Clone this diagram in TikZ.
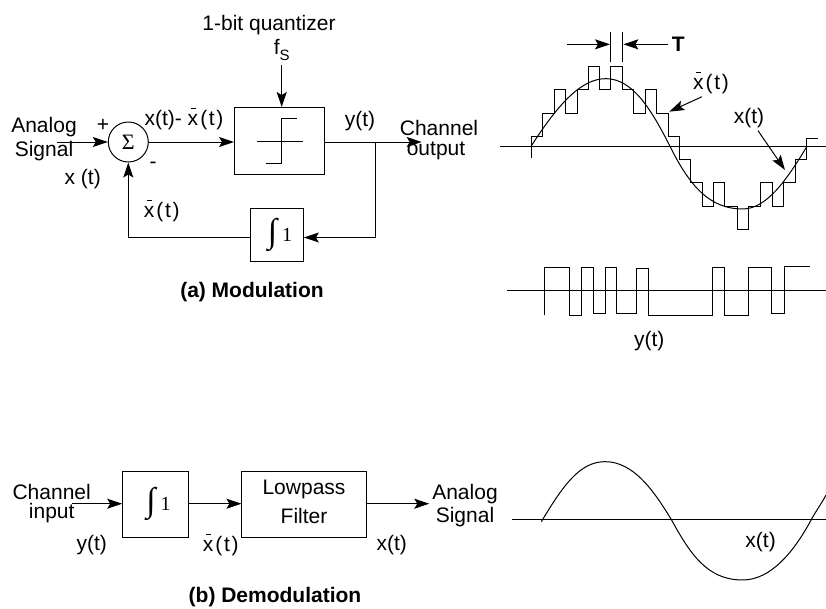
\documentclass[tikz,border=0pt]{standalone}
\usepackage{fontspec}
\setmainfont{Liberation Sans}
\newfontfamily\symfont{Liberation Serif}
\usetikzlibrary{arrows.meta}
\newcommand{\xbar}{\rlap{\kern.14em\raisebox{.78em}{\rule{.24em}{.05em}}}x}
\newcommand{\xbart}{\xbar\kern.1em(\kern.08em t\kern.08em)}
\newcommand{\intone}{{\symfont\fontsize{34}{34}\selectfont\kern6pt ∫\kern5pt\fontsize{20}{20}\selectfont\raisebox{1pt}{1}}}
\tikzset{
  sig/.style={-{Stealth[length=15pt,width=10pt,inset=3pt]}},
  blockbox/.style={draw, rectangle, inner sep=0pt},
  lab/.style={inner sep=0pt, font=\fontsize{21}{24}\selectfont},
  caption/.style={inner sep=0pt, font=\fontsize{21}{24}\selectfont\bfseries},
}
\begin{document}
\begin{tikzpicture}[x=1pt, y=-1pt, line width=1pt]
  \useasboundingbox (0,0) rectangle (826,608);

  % modulator
  \node [draw, circle, inner sep=0pt, minimum size=40pt] (sum) at (128.3,142) {\symfont\fontsize{22}{22}\selectfont Σ};
  \node [blockbox, minimum width=90pt, minimum height=66.5pt] (quant) at (279.5,140.8) {};
  \node [blockbox, minimum width=52.8pt, minimum height=53pt] (intg) at (277,235.2) {\intone};
  \coordinate (ain) at (57.3,142);
  \coordinate (junc) at (375.7,142);
  \coordinate (aout) at (421.7,142);
  \node [lab] (topname) at (269,25) {1-bit quantizer};
  \node [lab] (fs) at (281.7,50) {f\raisebox{-.3em}{\fontsize{15}{15}\selectfont S}};
  \node [lab] at (44,127) {Analog};
  \node [lab] at (44,150.7) {Signal};
  \node [lab] at (103,125) {+};
  \node [lab] at (82.7,179) {x (t)};
  \node [lab] at (153,165) {-};
  \node [lab] at (184,119) {x(t)- \xbart};
  \node [lab] at (360,120.7) {y(t)};
  \node [lab] at (161.7,210.7) {\xbart};
  \node [lab] at (439,128) {Channel};
  \node [lab] at (436,151) {output};
  \node [caption] at (252,292) {(a) Modulation};

  \draw [sig] (ain) -- (sum);
  \draw [sig] (sum) -- (sum -| quant.west);
  \draw [sig] ([yshift=-4pt]fs.south) -- (fs |- quant.north);
  \draw (quant.east |- junc) -- (junc);
  \draw [sig] (junc) -- (aout);
  \draw [sig] (junc) |- ([yshift=-2.3pt]intg.east);
  \draw [sig] ([yshift=-2.3pt]intg.west) -| (sum);

  % transfer curve in the quantizer
  \draw (256.7,141) -- (302.7,141);
  \draw (265.7,163.7) -- (281.7,163.7) -- (281.7,118) -- (296.7,118);

  % demodulator
  \node [blockbox, minimum width=65.6pt, minimum height=66.3pt] (intb) at (155.5,504.2) {\intone};
  \node [blockbox, minimum width=124.7pt, minimum height=66.3pt] (lowp) at (304.3,504.2) {};
  \coordinate (bin) at (72.3,503.7);
  \coordinate (bout) at (429.3,503.7);
  \node [lab] at (304,489) {Lowpass};
  \node [lab] at (304,516) {Filter};
  \node [lab] at (51.7,492) {Channel};
  \node [lab] at (51.7,513) {input};
  \node [lab] at (91.7,545) {y(t)};
  \node [lab] at (220.7,545) {\xbart};
  \node [lab] at (391.7,545) {x(t)};
  \node [lab] at (465,494) {Analog};
  \node [lab] at (465,516.7) {Signal};
  \node [caption] at (275,596.7) {(b) Demodulation};

  \draw [sig] (bin) -- (bin -| intb.west);
  \draw [sig] (bin -| intb.east) -- (bin -| lowp.west);
  \draw [sig] (bin -| lowp.east) -- (bout);

  % quantized waveform
  \begin{scope}[shift={(500,0)}, x=0.3333pt, y=-0.3333pt]
    \draw (0,439) -- (978,439);
    \draw (93,473) -- (93,410) -- (128,410) -- (128,340) -- (163,340) -- (163,270) -- (197,270)
      -- (197,340) -- (231,340) -- (231,270) -- (265,270) -- (265,199) -- (298,199) -- (298,270)
      -- (332,270) -- (332,201) -- (367,201) -- (367,270) -- (402,270) -- (402,340) -- (437,340)
      -- (437,270) -- (471,270) -- (471,340) -- (505,340) -- (505,410) -- (539,410) -- (539,480)
      -- (573,480) -- (573,549) -- (607,549) -- (607,619) -- (641,619) -- (641,549) -- (675,549)
      -- (675,619) -- (712,619) -- (712,688) -- (747,688) -- (747,619) -- (782,619) -- (782,549)
      -- (817,549) -- (817,619) -- (852,619) -- (852,549) -- (886,549) -- (886,480) -- (921,480)
      -- (921,415) -- (953,415);
    \draw (93,439) .. controls (170,320) and (240,236) .. (317,236)
      .. controls (395,236) and (450,320) .. (510,439)
      .. controls (570,560) and (630,627) .. (728,627)
      .. controls (800,627) and (860,540) .. (921,439);
    \draw (332,97) -- (332,185);
    \draw (368,97) -- (368,185);
    \coordinate (tl) at (200,133);
    \coordinate (tr) at (505,133);
    \draw [sig] (tl) -- (330,133);
    \draw [sig] (tr) -- (370,133);
    \node [caption] at (535,132) {T};
    \node [lab] (xqlab) at (633,250) {\xbart};
    \node [lab] (xlab) at (747,355) {x(t)};
    \coordinate (xqtip) at (508,335);
    \coordinate (xtip) at (855,510);
    \draw [sig] ([xshift=-9pt,yshift=-2pt]xqlab.south) -- (xqtip);
    \draw [sig] ([xshift=9pt,yshift=-2pt]xlab.south) -- (xtip);
  \end{scope}

  % binary output
  \begin{scope}[shift={(500,240)}, x=0.3333pt, y=-0.3333pt]
    \draw (22,152) -- (978,152);
    \draw (133,226) -- (133,82) -- (208,82) -- (208,226) -- (244,226) -- (244,82) -- (280,82)
      -- (280,222) -- (316,222) -- (316,82) -- (350,82) -- (350,222) -- (410,222) -- (410,85)
      -- (447,85) -- (447,226) -- (637,226) -- (637,82) -- (673,82) -- (673,226) -- (747,226)
      -- (747,82) -- (815,82) -- (815,222) -- (855,222) -- (855,80) -- (930,80);
    \node [lab] at (448,303) {y(t)};
  \end{scope}

  % recovered signal
  \begin{scope}[shift={(500,440)}, x=0.3333pt, y=-0.3333pt]
    \draw (37,237) -- (978,237);
    \draw (124,245) .. controls (190,135) and (240,65) .. (315,65)
      .. controls (400,65) and (460,150) .. (513,237)
      .. controls (570,340) and (620,420) .. (728,420)
      .. controls (810,420) and (880,340) .. (935,237)
      .. controls (950,210) and (965,190) .. (978,165);
    \node [lab] at (782,305) {x(t)};
  \end{scope}
\end{tikzpicture}
\end{document}
